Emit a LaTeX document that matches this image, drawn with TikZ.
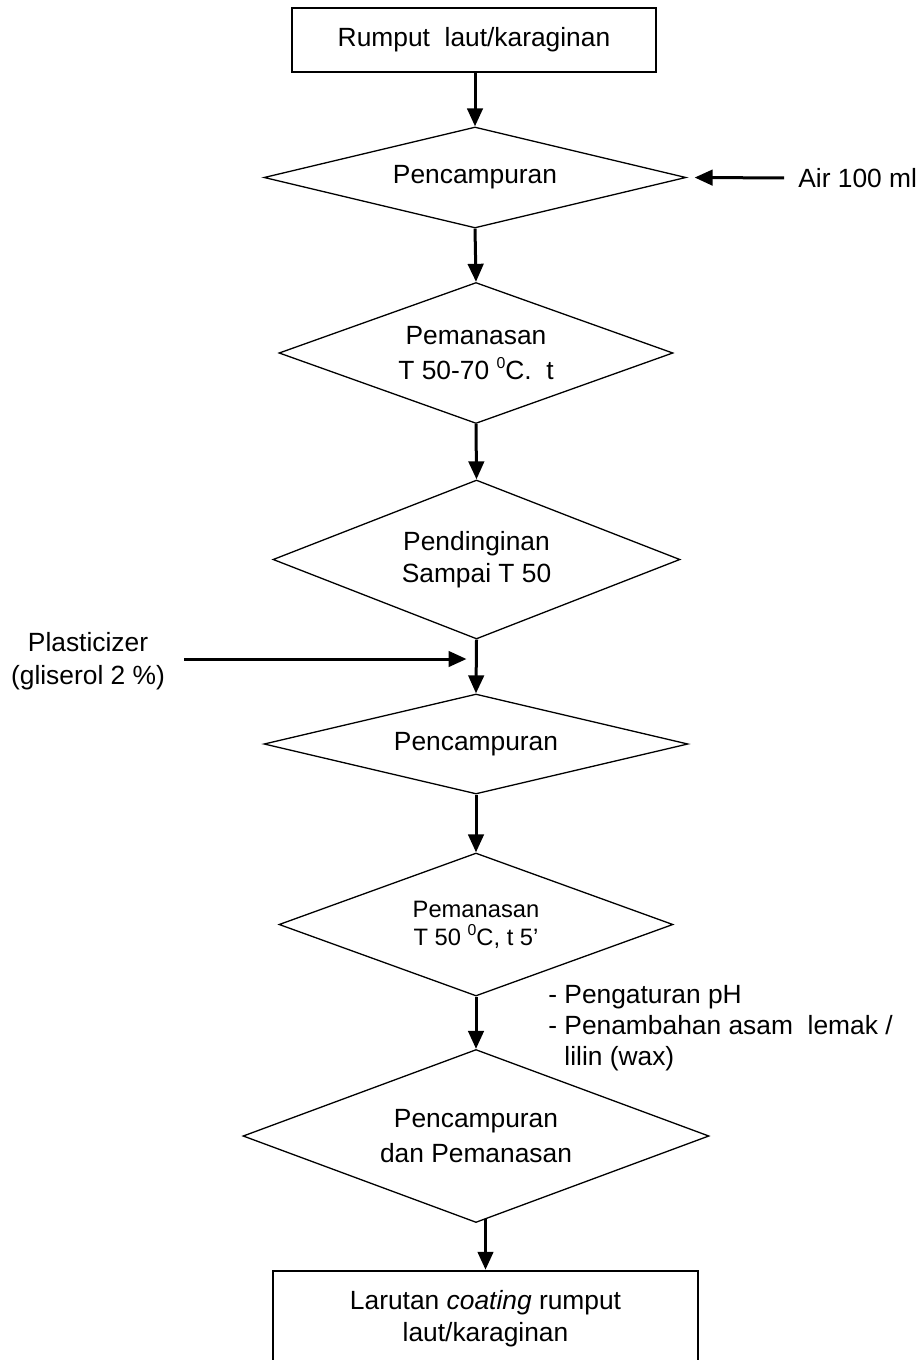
\documentclass[tikz,border=0pt]{standalone}
\usepackage{fontspec}
\setmainfont{Liberation Sans}
\usetikzlibrary{shapes.geometric,arrows.meta}
\newcommand{\derajat}{\raisebox{0.42em}{\fontsize{9}{9}\selectfont 0}}
\begin{document}
\begin{tikzpicture}[
    kotak/.style={draw=black,line width=0.05cm,rectangle,inner sep=0cm,align=center,font=\fontsize{15}{18.5}\selectfont},
    proses/.style={draw=black,line width=0.026cm,diamond,aspect=2.5,inner sep=0cm,align=center,font=\fontsize{15}{20}\selectfont},
    teks/.style={inner sep=0cm,align=center,font=\fontsize{15}{18.5}\selectfont},
    panah/.style={black,line width=0.06cm,-{Triangle[length=0.36cm,width=0.31cm]}}
  ]
    \useasboundingbox (0,0) rectangle (18.34,-27.2);
    \node[kotak,minimum width=7.28cm,minimum height=1.28cm] (b1) at (9.48,-0.80){Rumput\ \ laut/karaginan};
    \node[proses,minimum width=8.44cm,minimum height=2.02cm] (d1) at (9.50,-3.55){Pencampuran};
    \node[proses,minimum width=7.88cm,minimum height=2.82cm] (d2) at (9.52,-7.06){Pemanasan\\T 50-70 \derajat C.\ \ t};
    \node[proses,minimum width=8.14cm,minimum height=3.18cm,font=\fontsize{15}{18}\selectfont] (d3) at (9.53,-11.19){Pendinginan\\Sampai T 50};
    \node[proses,minimum width=8.48cm,minimum height=2.0cm] (d4) at (9.52,-14.88){Pencampuran};
    \node[proses,minimum width=7.88cm,minimum height=2.86cm,font=\fontsize{13.5}{16}\selectfont] (d5) at (9.52,-18.49){Pemanasan\\T 50 \derajat C, t 5'};
    \node[proses,minimum width=9.32cm,minimum height=3.46cm] (d6) at (9.52,-22.72){Pencampuran\\dan Pemanasan};
    \node[kotak,minimum width=8.5cm,minimum height=1.9cm] (b2) at (9.71,-26.37){Larutan \textit{coating} rumput\\laut/karaginan};
    \node[teks,anchor=west] (air) at (15.96,-3.56){Air 100 ml};
    \node[teks] (plast) at (1.76,-13.22){Plasticizer\\(gliserol 2 \%)};
    \node[teks,align=left,anchor=west,font=\fontsize{15}{17.6}\selectfont] (tambah) at (10.96,-20.56){-~Pengaturan pH\\-~Penambahan asam\ \ lemak /\\\phantom{-~}lilin (wax)};
    \coordinate (masuk) at (9.53,-13.18);
    \draw[panah] (d1.north |- b1.south) -- (d1.north);
    \draw[panah] (d1.south) -- (d2.north);
    \draw[panah] (d2.south) -- (d3.north);
    \draw[panah] (d3.south) -- (d4.north);
    \draw[panah] (d4.south) -- (d5.north);
    \draw[panah] (d5.south) -- (d6.north);
    \draw[panah,shorten <=-0.08cm] (b2.north |- d6.south) -- (b2.north);
    \draw[panah,shorten <=0.28cm,shorten >=0.16cm] (air.west) -- (d1.east);
    \draw[panah,shorten <=0.38cm,shorten >=0.2cm] (plast.east |- masuk) -- (masuk);
  \end{tikzpicture}
\end{document}
